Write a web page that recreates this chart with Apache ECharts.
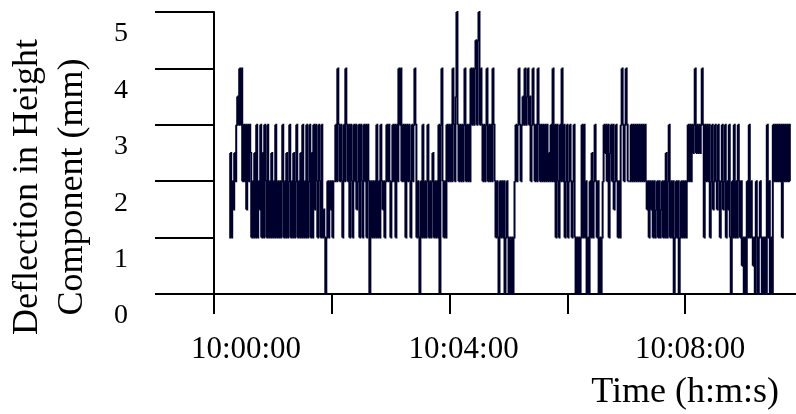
<!DOCTYPE html>
<html>
<head>
<meta charset="utf-8">
<script src="https://cdn.jsdelivr.net/npm/echarts@6/dist/echarts.min.js"></script>
<style>
  html, body { margin: 0; padding: 0; background: #fff; }
  #chart { width: 796px; height: 414px; }
</style>
</head>
<body>
<div id="chart"></div>
<script>
// seconds after 10:00:00 of the first reading, and spacing between readings
var startSec = 15.5;
var stepSec = 1.02;

// deflection readings (mm) left to right
var deflection = [
  1, 2.5, 1, 2, 1.5, 2.5, 2, 3,
  3.5, 3, 4, 3, 4,
  2, 3, 2, 3, 1.5, 3, 2, 3, 2.5,
  1, 2, 1, 2.5, 1, 3, 1, 2, 1.5, 3, 1, 2.5, 1, 3, 2, 1, 3, 1, 2, 1,
  2.5, 1, 2, 1, 3, 1, 2, 1, 2, 1, 2, 3, 1, 2, 1, 2.5, 1, 2, 3, 1,
  2, 1, 2.5, 1, 2, 3, 1, 2, 1, 2.5, 1, 3, 1, 2, 1, 3, 1, 2,
  3, 1, 2.5, 1, 3, 1.5, 3, 2, 1, 3,
  2, 1, 3, 1, 1.5, 1, 0, 1, 2, 1, 2, 1.5, 2, 1, 2, 2,
  3, 2, 4, 3, 2, 3, 2, 1, 3, 2, 4, 3, 2, 3, 1, 3, 2, 1, 3, 2,
  3, 1.5, 2, 3, 1, 3, 2, 1, 3, 2, 3, 1, 3, 2, 0, 2, 1,
  2, 1, 2, 1, 3, 1, 2, 1, 3, 2, 1.5, 2, 1,
  2, 3, 2, 3, 2, 1, 2, 3, 2, 3, 1, 3, 2,
  4, 3, 4,
  2, 3, 2, 3, 1, 3, 2, 3, 2, 1, 3, 2, 3, 4, 3, 1, 2, 1, 0, 2, 1,
  3, 1, 2, 1, 2, 3, 1, 2, 1, 2, 2.5, 1, 2, 1, 2, 1, 3, 0, 3, 4, 2, 1, 2, 1, 3,
  2, 3, 2, 3, 2, 4, 3, 2, 3.5, 5, 3, 2, 3, 2, 3, 2, 3, 4, 2, 3, 2, 3, 2,
  4, 3, 4, 3, 4, 4.5, 3, 4.5, 5, 3, 4, 3,
  2, 3, 2, 3, 4, 2, 3, 2, 3, 2, 4, 3, 2,
  1, 2, 1, 0, 2, 1, 2, 1, 2, 0, 1, 2, 1, 0, 1, 0, 1, 0, 1, 2,
  3, 2, 3, 4, 3, 2, 3, 3.5, 3, 4, 3, 3.5, 4, 3, 3.5, 2, 3, 4, 3, 2,
  3, 2, 4, 3, 2, 3, 2, 3, 2,
  3, 2, 3, 2, 2.5, 2, 3, 2, 4, 2,
  3, 1, 3, 2, 1, 3, 2, 4, 2, 3, 1, 2, 3, 1, 2, 3, 2, 1, 2, 3, 1,
  0, 1, 0, 1, 0, 1, 3,
  1, 3, 1, 2, 0, 1, 0, 2, 1, 2.5, 1, 2, 3, 2, 1, 2, 0, 1, 0, 1, 2, 3,
  2.5, 3, 2, 3, 1, 2.5, 3, 2, 3, 1.5, 2, 3, 2, 1, 2, 1,
  3, 4, 3, 2, 3, 4, 3, 2,
  2, 2, 3, 2, 3, 2, 3, 2, 3, 2, 3, 2, 3, 2, 3, 2, 3, 2, 1.5,
  2, 1, 2, 1.5, 2, 1, 2, 1, 1.5, 2, 1, 2, 1, 1.5, 2,
  1, 2, 1, 2.5, 1, 2, 3, 1, 2, 1, 2, 0, 1, 2, 1, 2, 0, 1, 2, 1, 2, 1, 2, 1, 2,
  3, 2, 3, 2, 3, 2.5, 3, 4, 2.5, 3, 2.5, 3, 2.5, 3, 4, 3, 1, 3,
  2, 3, 2, 3, 1, 2, 3, 1.5, 2, 3, 2, 1.5, 3, 2, 1, 2, 3, 1.5, 2, 3, 1, 2, 1.5, 3,
  1, 0, 2, 1, 3, 1, 2, 1, 3, 2, 1, 2, 0.5, 1, 0, 1, 0, 2, 1, 3, 1, 2, 1, 0.5, 1, 0, 2, 1, 0, 1,
  2, 1, 0, 1, 0, 1, 0, 3, 1, 2, 0, 1, 0,
  3, 2, 3, 2, 3, 2, 3, 2, 3, 1, 3, 2, 3, 2, 3, 2, 3, 2
];

var xTickValues = [0, 120, 240, 360, 480];
var xLabelValues = [0, 240, 480];
var xLabels = ['10:00:00', '10:04:00', '10:08:00'];
var yTicks = [0, 1, 2, 3, 4, 5];

// each item: [time, value, previous time, previous value]
var seriesData = deflection.map(function (v, i) {
  var t = startSec + i * stepSec;
  var prev = i > 0 ? i - 1 : 0;
  return [t, v, startSec + prev * stepSec, deflection[prev]];
});

var serif = '"Liberation Serif", "Times New Roman", serif';
var labelPad = [64, 28, 10];
var rich = {};
xLabels.forEach(function (t, i) {
  rich['l' + i] = {
    fontFamily: serif, fontSize: 31, color: '#000',
    padding: [0, 0, 0, labelPad[i]]
  };
});

// step trace: hold previous reading, then jump to the new one
function renderStep(params, api) {
  var a = api.coord([api.value(2), api.value(3)]);
  var b = api.coord([api.value(0), api.value(3)]);
  var c = api.coord([api.value(0), api.value(1)]);
  return {
    type: 'polyline',
    shape: { points: [a, b, c] },
    style: { stroke: '#00002e', lineWidth: 2, fill: null }
  };
}

var chart = echarts.init(document.getElementById('chart'));
chart.setOption({
  animation: false,
  backgroundColor: '#fff',
  grid: { left: 214, right: 0, top: 12, bottom: 120 },
  xAxis: {
    type: 'value',
    min: 0,
    max: 593,
    splitLine: { show: false },
    axisLine: { show: true, lineStyle: { color: '#000', width: 2 } },
    axisTick: {
      show: true, length: 20, customValues: xTickValues,
      lineStyle: { color: '#000', width: 2 }
    },
    axisLabel: {
      customValues: xLabelValues,
      margin: 40,
      formatter: function (value) {
        var i = xLabelValues.indexOf(value);
        return i < 0 ? '' : '{l' + i + '|' + xLabels[i] + '}';
      },
      rich: rich
    }
  },
  yAxis: {
    type: 'value',
    min: yTicks[0],
    max: yTicks[yTicks.length - 1],
    interval: 1,
    splitLine: { show: false },
    axisLine: { show: true, lineStyle: { color: '#000', width: 2 } },
    axisTick: { show: true, length: 59, lineStyle: { color: '#000', width: 2 } },
    axisLabel: {
      margin: 86,
      fontFamily: serif,
      fontSize: 28,
      color: '#000',
      verticalAlign: 'top',
      padding: [8, 0, 0, 0]
    }
  },
  graphic: [
    {
      type: 'text',
      x: 50, y: 187,
      rotation: Math.PI / 2,
      style: {
        text: 'Deflection in Height\nComponent (mm)',
        font: '36px ' + serif,
        fill: '#000',
        align: 'center',
        verticalAlign: 'middle',
        lineHeight: 45
      }
    },
    {
      type: 'text',
      x: 779, y: 393,
      style: {
        text: 'Time (h:m:s)',
        font: '36px ' + serif,
        fill: '#000',
        align: 'right',
        verticalAlign: 'middle'
      }
    }
  ],
  series: [{
    type: 'custom',
    renderItem: renderStep,
    encode: { x: [0, 2], y: [1, 3] },
    data: seriesData
  }]
});
</script>
</body>
</html>
